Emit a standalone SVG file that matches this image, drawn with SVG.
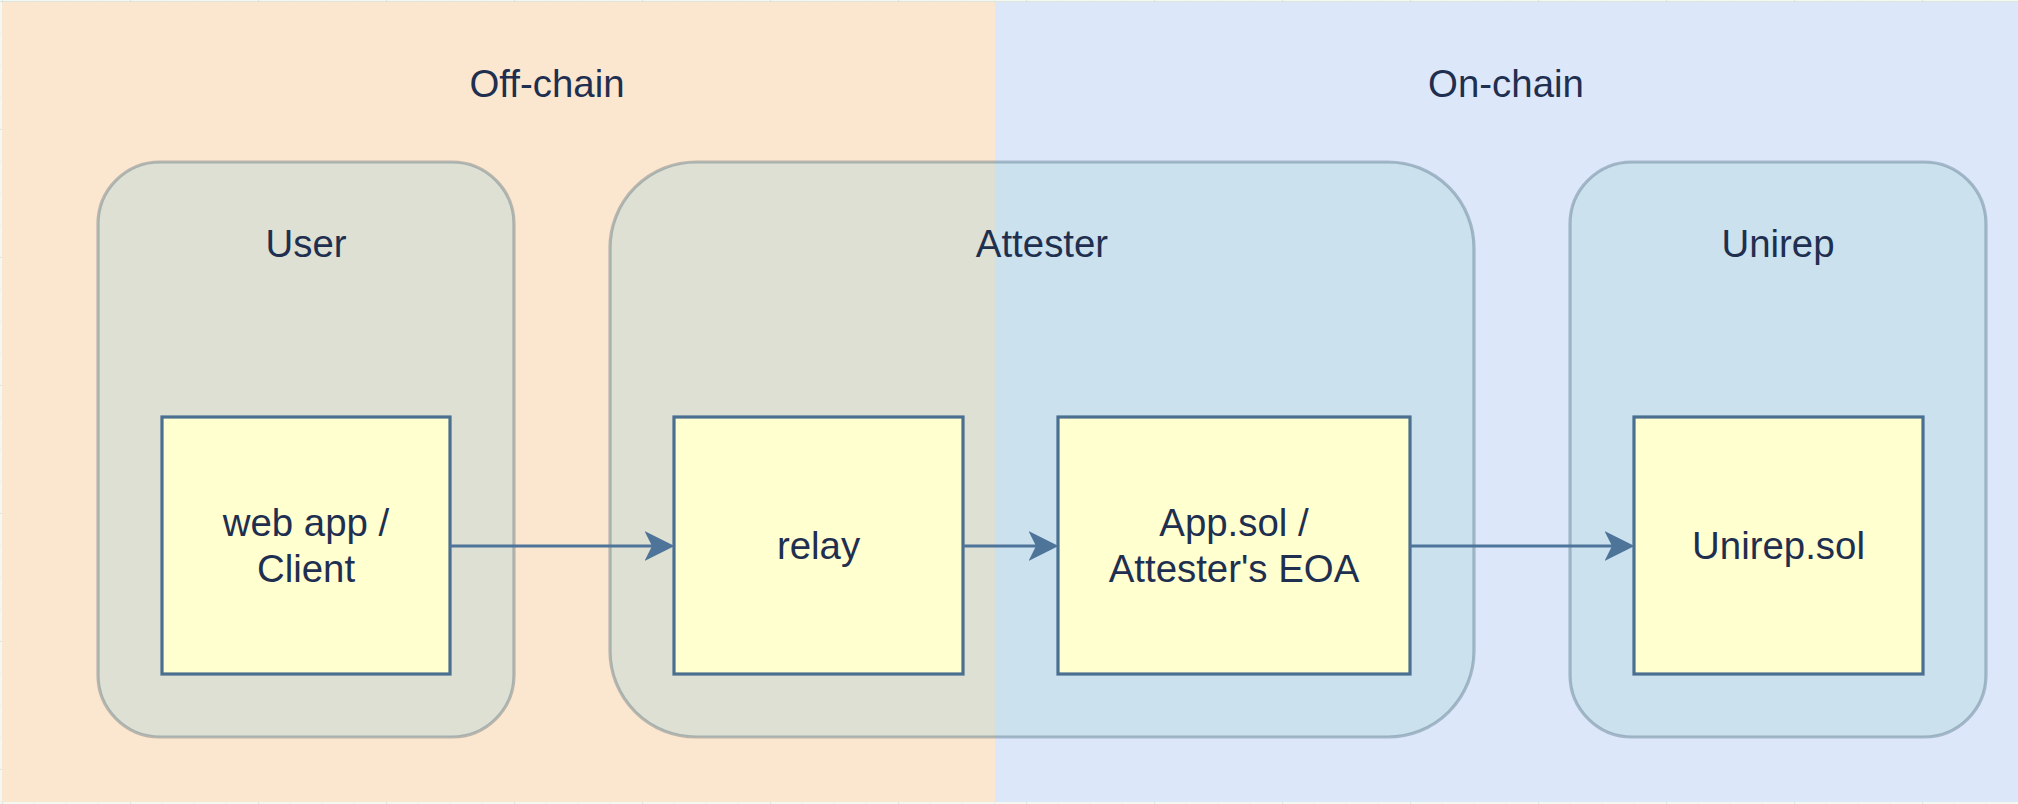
<svg xmlns="http://www.w3.org/2000/svg" width="2018" height="804" viewBox="0 0 2018 804">
  <defs>
    <pattern id="minor" x="2" y="1" width="32" height="32" patternUnits="userSpaceOnUse">
      <path d="M0,0 V32 M0,0 H32" stroke="#e2e8df" stroke-width="1" fill="none"/>
    </pattern>
    <pattern id="major" x="2" y="1" width="128" height="128" patternUnits="userSpaceOnUse">
      <path d="M0,0 V128 M0,0 H128" stroke="#d2d9cf" stroke-width="1" fill="none"/>
    </pattern>
    <marker id="arrow" markerUnits="userSpaceOnUse" markerWidth="30" markerHeight="30" refX="7" refY="14" orient="auto" viewBox="0 0 28 28">
      <path d="M0,0 L28,14 L0,28 L7,14 Z" fill="#4e7499"/>
    </marker>
    <style>
      .lbl { font-family: "Liberation Sans", Arial, Helvetica, sans-serif; font-size: 38.4px; fill: #1f2f50; text-anchor: middle; }
      .container { fill: #b1d7da; fill-opacity: 0.4; stroke: #23445d; stroke-opacity: 0.3; stroke-width: 3.2; }
      .box { fill: #ffffd0; stroke: #4a6f90; stroke-width: 3.2; }
      .edge { stroke: #4e7499; stroke-width: 3.2; fill: none; marker-end: url(#arrow); }
    </style>
  </defs>

  <g id="background">
    <rect x="0" y="0" width="2018" height="804" fill="#f4f8f2"/>
    <rect x="0" y="0" width="2018" height="804" fill="url(#minor)"/>
    <rect x="0" y="0" width="2018" height="804" fill="url(#major)"/>
  </g>

  <g id="offchain">
    <rect x="2" y="2" width="993" height="800" fill="#fbe6cf"/>
    <text class="lbl" x="547" y="97">Off-chain</text>
  </g>
  <g id="onchain">
    <rect x="995" y="2" width="1023" height="800" fill="#dce8fa"/>
    <text class="lbl" x="1506" y="97">On-chain</text>
  </g>

  <g id="user">
    <rect class="container" x="98" y="162" width="416" height="575" rx="62" ry="62"/>
    <text class="lbl" x="306" y="257">User</text>
  </g>
  <g id="attester">
    <rect class="container" x="610" y="162" width="864" height="575" rx="86" ry="86"/>
    <text class="lbl" x="1042" y="257">Attester</text>
  </g>
  <g id="unirep">
    <rect class="container" x="1570" y="162" width="416" height="575" rx="62" ry="62"/>
    <text class="lbl" x="1778" y="257">Unirep</text>
  </g>

  <g id="webapp">
    <rect class="box" x="162" y="417" width="288" height="257"/>
    <text class="lbl" x="306" y="536">web app /</text>
    <text class="lbl" x="306" y="582">Client</text>
  </g>
  <g id="relay">
    <rect class="box" x="674" y="417" width="289" height="257"/>
    <text class="lbl" x="818.5" y="559">relay</text>
  </g>
  <g id="appsol">
    <rect class="box" x="1058" y="417" width="352" height="257"/>
    <text class="lbl" x="1234" y="536">App.sol /</text>
    <text class="lbl" x="1234" y="582">Attester's EOA</text>
  </g>
  <g id="unirepsol">
    <rect class="box" x="1634" y="417" width="289" height="257"/>
    <text class="lbl" x="1778.5" y="559">Unirep.sol</text>
  </g>

  <g id="connectors">
    <line class="edge" x1="450" y1="546" x2="652" y2="546"/>
    <line class="edge" x1="963" y1="546" x2="1036" y2="546"/>
    <line class="edge" x1="1410" y1="546" x2="1612" y2="546"/>
  </g>
</svg>
